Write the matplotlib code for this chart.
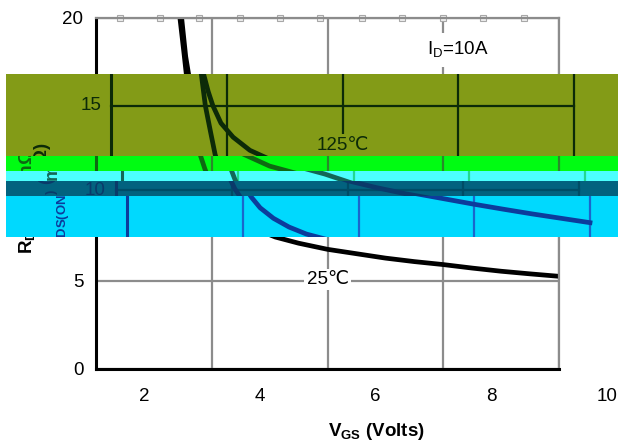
import matplotlib.pyplot as plt
from matplotlib import transforms

plt.rcParams['font.family'] = ['Liberation Sans', 'DejaVu Sans']
plt.rcParams['mathtext.fontset'] = 'custom'
plt.rcParams['mathtext.rm'] = 'Liberation Sans'
plt.rcParams['mathtext.bf'] = 'Liberation Sans:bold'

# values
vgs_25c = [3.45, 3.52, 3.56, 3.63, 3.72, 3.80, 3.88, 3.95, 4.05, 4.15, 4.30,
           4.53, 4.80, 5.10, 5.50, 6.00, 6.40, 7.00, 7.50, 8.00, 8.50, 9.00,
           9.50, 10.00]
rds_25c = [20.0, 18.0, 16.8, 15.0, 13.5, 12.2, 11.4, 10.8, 10.1, 9.6, 9.0,
           8.4, 7.9, 7.5, 7.15, 6.8, 6.6, 6.3, 6.1, 5.93, 5.73, 5.55,
           5.4, 5.26]
vgs_125c = [3.48, 3.55, 3.60, 3.68, 3.76, 3.90, 4.11, 4.40, 4.80, 5.00,
            5.50, 6.00, 6.50, 7.00, 7.50, 8.00, 8.50, 9.00, 9.50, 10.00]
rds_125c = [20.0, 17.8, 16.8, 15.8, 15.0, 14.0, 13.2, 12.45, 11.85, 11.55,
            11.1, 10.55, 10.15, 9.8, 9.5, 9.2, 8.92, 8.65, 8.4, 8.15]
x_ticks = [2, 4, 6, 8, 10]
y_ticks = [0, 5, 10, 15, 20]
top_marks = [2.41, 3.11, 3.78, 4.49, 5.18, 5.87, 6.60, 7.29, 8.0, 8.69, 9.40]

xlabel = r'$\mathbf{V_{GS}}$ (Volts)'
ylabel = r'R$_{\mathbf{DS(ON)}}$ (mΩ)'
id_label = r'I$_\mathrm{D}$=10A'

W, H = 618, 444
L, R, T, B = 96, 559, 18, 368.5   # plot box in pixels
FS = 13.5


def xd(px):
    return x_ticks[0] + (px - L) * (x_ticks[-1] - x_ticks[0]) / (R - L)


def yd(py):
    return y_ticks[0] + (B - py) * (y_ticks[-1] - y_ticks[0]) / (B - T)


fig = plt.figure(figsize=(W / 100, H / 100), dpi=100)
ax = fig.add_axes([L / W, 1 - B / H, (R - L) / W, (B - T) / H])
ax.set_xlim(x_ticks[0], x_ticks[-1])
ax.set_ylim(y_ticks[0], y_ticks[-1])
ax.set_xticks(x_ticks)
ax.set_yticks(y_ticks)
ax.set_axisbelow(True)
ax.grid(True, color='#8c8c8c', lw=1.6)
ax.tick_params(length=0, labelsize=FS)
ax.tick_params(axis='x', pad=14)
ax.tick_params(axis='y', pad=9)
# x tick labels sit off their grid lines in the original
shift = transforms.ScaledTranslation(0.48, 0, fig.dpi_scale_trans)
for lab in ax.get_xticklabels():
    lab.set_transform(lab.get_transform() + shift)
for side in ['left', 'bottom']:
    ax.spines[side].set_color('black')
    ax.spines[side].set_linewidth(2.2)
for side in ['top', 'right']:
    ax.spines[side].set_color('#8c8c8c')
    ax.spines[side].set_linewidth(1.6)

ax.plot(vgs_125c, rds_125c, color='black', lw=3.4)
ax.plot(vgs_25c, rds_25c, color='black', lw=3.4)
ax.plot(top_marks, [y_ticks[-1]] * len(top_marks), ls='none', marker='s',
        ms=4, mfc='#eeeeee', mec='#a8a8a8', mew=0.8, clip_on=False)

ax.text(6, 5.1, '25℃', ha='center', va='center', fontsize=FS,
        bbox=dict(facecolor='white', edgecolor='none', pad=1.5))
ax.text(xd(458), yd(50), id_label, ha='center', va='center', fontsize=FS,
        bbox=dict(facecolor='white', edgecolor='none', pad=5))
ax.text(xd(376), yd(431), xlabel, ha='center', va='center', fontsize=FS,
        fontweight='bold', clip_on=False)
ax.text(xd(29), yd(198), ylabel, ha='center', va='center', rotation=90,
        fontsize=FS, fontweight='bold', clip_on=False)

# glitch bands: shifted, recoloured copies of the chart
bands = [
    (74, 156, 15, 0, '#839b17', '#0c2a08', '#0c2a08'),
    (156, 171, 0, 0, '#00fc12', '#2a8a2a', '#0e6a12'),
    (171, 181.5, 26, 0, '#4cfffe', '#22d890', '#126858'),
    (181.5, 196, 20, 3, '#02627f', '#004c66', '#0a3a6a'),
    (196, 237, 31, 3, '#00d9fe', '#1a66cc', '#0c3c9c'),
]

for top, bottom, dx, dy, bg, grid_c, ink in bands:
    bx = fig.add_axes([6 / W, 1 - bottom / H, (W - 6) / W, (bottom - top) / H])
    bx.set_facecolor(bg)
    bx.set_xlim(xd(6 - dx), xd(W - dx))
    bx.set_ylim(yd(bottom + dy), yd(top + dy))
    bx.set_xticks([])
    bx.set_yticks([])
    for s in bx.spines.values():
        s.set_visible(False)
    for xv in x_ticks[1:]:
        bx.plot([xv, xv], [y_ticks[0], y_ticks[-1]], color=grid_c, lw=1.6)
    for yv in y_ticks[1:-1]:
        bx.plot([x_ticks[0], x_ticks[-1]], [yv, yv], color=grid_c, lw=1.6)
    bx.plot([x_ticks[0]] * 2, [y_ticks[0], y_ticks[-1]], color=ink, lw=2.2)
    bx.plot(vgs_125c, rds_125c, color=ink, lw=3.4)
    bx.plot(vgs_25c, rds_25c, color=ink, lw=3.4)
    for yv in y_ticks:
        bx.text(xd(L - 10), yv, str(yv), ha='right', va='center', color=ink,
                fontsize=FS, clip_on=True)
    bx.text(xd(29), yd(198), ylabel, ha='center', va='center', rotation=90,
            fontsize=FS, fontweight='bold', color=ink, clip_on=True)
    bx.text(6, yd(145), '125℃', ha='center', va='center', fontsize=FS,
            color=ink, clip_on=True,
            bbox=dict(facecolor=bg, edgecolor='none', pad=1.5))

fig.savefig('out.png', dpi=100)
